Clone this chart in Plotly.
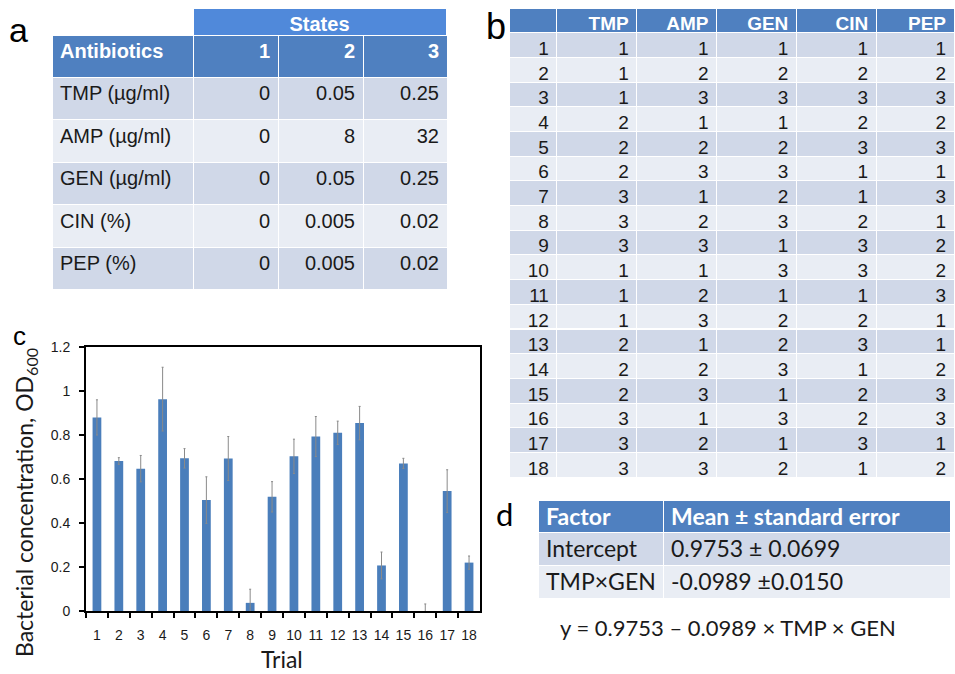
import plotly.graph_objects as go

W, H = 955, 674
def px(x): return x / W
def py(y): return 1 - y / H

# ---------- data: table a ----------
state_header = ["States"]
a_header = ["Antibiotics", "1", "2", "3"]
antibiotics = ["TMP (µg/ml)", "AMP (µg/ml)", "GEN (µg/ml)", "CIN (%)", "PEP (%)"]
state1 = ["0", "0", "0", "0", "0"]
state2 = ["0.05", "8", "0.05", "0.005", "0.005"]
state3 = ["0.25", "32", "0.25", "0.02", "0.02"]

# ---------- data: table b ----------
b_header = ["", "TMP", "AMP", "GEN", "CIN", "PEP"]
run = list(range(1, 19))
tmp = [1, 1, 1, 2, 2, 2, 3, 3, 3, 1, 1, 1, 2, 2, 2, 3, 3, 3]
amp = [1, 2, 3, 1, 2, 3, 1, 2, 3, 1, 2, 3, 1, 2, 3, 1, 2, 3]
gen = [1, 2, 3, 1, 2, 3, 2, 3, 1, 3, 1, 2, 2, 3, 1, 3, 1, 2]
cin = [1, 2, 3, 2, 3, 1, 1, 2, 3, 3, 1, 2, 3, 1, 2, 2, 3, 1]
pep = [1, 2, 3, 2, 3, 1, 3, 1, 2, 2, 3, 1, 1, 2, 3, 3, 1, 2]

# ---------- data: chart c ----------
trials = [str(i) for i in range(1, 19)]
od600 = [0.88, 0.682, 0.647, 0.963, 0.694, 0.504, 0.693, 0.037, 0.519,
         0.703, 0.793, 0.81, 0.854, 0.207, 0.671, 0.0, 0.545, 0.22]
err_plus = [0.08, 0.015, 0.06, 0.145, 0.044, 0.106, 0.10, 0.062, 0.069,
            0.078, 0.091, 0.053, 0.076, 0.061, 0.023, 0.032, 0.097, 0.03]
err_minus = [0.08, 0.015, 0.06, 0.145, 0.044, 0.106, 0.10, 0.062, 0.069,
             0.078, 0.091, 0.053, 0.076, 0.061, 0.023, 0.058, 0.097, 0.03]
y_ticks = [0, 0.2, 0.4, 0.6, 0.8, 1.0, 1.2]
y_ticktext = ["0", "0.2", "0.4", "0.6", "0.8", "1", "1.2"]

# ---------- data: table d ----------
d_header = ["Factor", "Mean ± standard error"]
factors = ["Intercept", "TMP×GEN"]
estimates = ["0.9753 ± 0.0699", "-0.0989 ±0.0150"]
equation = "y = 0.9753 – 0.0989 × TMP × GEN"

HEAD1 = "#5089DA"
HEAD2 = "#4F80C0"
DARK = "#D0D8E8"
LIGHT = "#E9EDF4"
TXT = "#1a1a1a"
ARIAL = "Liberation Sans, Arial"
CAL = "Lato"

fig = go.Figure()

# ---- table a main ----
rows_a = [DARK if i % 2 == 0 else LIGHT for i in range(len(antibiotics))]
fig.add_trace(go.Table(
    domain=dict(x=[px(52), px(447)], y=[py(290), py(35)]),
    columnwidth=[141, 85, 85, 84],
    header=dict(values=a_header, height=42, fill_color=HEAD2,
                line=dict(color="white", width=1),
                align=["left", "right", "right", "right"],
                font=dict(family=ARIAL, size=20, color="white", weight="bold")),
    cells=dict(values=[antibiotics, state1, state2, state3], height=42.5,
               fill_color=[rows_a] * 4, line=dict(color="white", width=1),
               align=["left", "right", "right", "right"],
               font=dict(family=ARIAL, size=20, color=TXT)),
))

# ---- table a: "States" spanning header (transparent body row) ----
fig.add_trace(go.Table(
    domain=dict(x=[px(193), px(447)], y=[py(77), py(8)]),
    header=dict(values=state_header, height=27, fill_color=HEAD1,
                line=dict(color="white", width=1), align="center",
                font=dict(family=ARIAL, size=20, color="white", weight="bold")),
    cells=dict(values=[[" "]], height=42, fill_color="rgba(0,0,0,0)",
               line=dict(color="rgba(0,0,0,0)", width=0),
               font=dict(family=ARIAL, size=17, color="rgba(0,0,0,0)")),
))

# ---- table b ----
rows_b = [DARK if i % 2 == 0 else LIGHT for i in range(len(run))]
fig.add_trace(go.Table(
    domain=dict(x=[px(509), 1.0], y=[py(479), py(8)]),
    columnwidth=[48, 80, 80, 80, 80, 78],
    header=dict(values=b_header, height=24.6, fill_color=HEAD2,
                line=dict(color="white", width=1), align="right",
                font=dict(family=ARIAL, size=19, color="white", weight="bold")),
    cells=dict(values=[run, tmp, amp, gen, cin, pep], height=24.7,
               fill_color=[rows_b] * 6, line=dict(color="white", width=1),
               align="right", font=dict(family=ARIAL, size=19, color=TXT)),
))

# ---- table d ----
fig.add_trace(go.Table(
    domain=dict(x=[px(538), px(950)], y=[py(600), py(500)]),
    columnwidth=[125, 287],
    header=dict(values=d_header, height=32, fill_color=HEAD2,
                line=dict(color="white", width=1), align="left",
                font=dict(family=CAL, size=23, color="white", weight="bold")),
    cells=dict(values=[factors, estimates], height=33,
               fill_color=[[DARK, LIGHT]] * 2, line=dict(color="white", width=1),
               align="left", font=dict(family=CAL, size=23, color=TXT)),
))

# ---- chart c ----
fig.add_trace(go.Bar(
    x=trials, y=od600, width=0.4, marker=dict(color="#4A7EBB", line=dict(width=0)),
    error_y=dict(type="data", array=err_plus, arrayminus=err_minus, symmetric=False,
                 color="#8a8a8a", thickness=1, width=1),
    cliponaxis=False, xaxis="x", yaxis="y", showlegend=False,
))

def ann(text, x, y, size, family=CAL, angle=0, color=TXT):
    return dict(text=text, x=px(x), y=py(y), xref="paper", yref="paper",
                xanchor="center", yanchor="middle", textangle=angle,
                showarrow=False, font=dict(family=family, size=size, color=color))

fig.update_layout(
    width=W, height=H, margin=dict(l=0, r=0, t=0, b=0, autoexpand=False),
    paper_bgcolor="white", plot_bgcolor="white",
    xaxis=dict(domain=[px(86), px(480)], type="category", showgrid=False,
               automargin=False,
               showline=True, linecolor="black", linewidth=2, mirror=True,
               ticks="outside", tickson="boundaries", ticklen=5, tickwidth=2,
               tickcolor="black", tickfont=dict(family=ARIAL, size=14, color=TXT),
               tickangle=0, ticklabelstandoff=10),
    yaxis=dict(domain=[py(611), py(347)], range=[0, 1.2], showgrid=False,
               automargin=False,
               zeroline=False, showline=True, linecolor="black", linewidth=2,
               mirror=True, ticks="outside", ticklen=5, tickwidth=2,
               tickcolor="black", tickvals=y_ticks, ticktext=y_ticktext,
               tickfont=dict(family=ARIAL, size=14, color=TXT),
               ticklabelstandoff=6),
    annotations=[
        ann("Trial", 282, 659, 23),
        ann("Bacterial concentration, OD<sub>600</sub>", 26, 503, 23, angle=-90),
        ann(equation, 728, 627, 22),
        ann("a", 18, 30, 34, ARIAL, color="black"),
        ann("b", 496, 27, 36, ARIAL, color="black"),
        ann("c", 19, 336, 26, ARIAL, color="black"),
        ann("d", 505, 514, 31, color="black"),
    ],
)

fig.write_html("out.html", config={"displayModeBar": False},
               post_script="document.body.style.margin='0px';document.body.style.padding='0px';")
